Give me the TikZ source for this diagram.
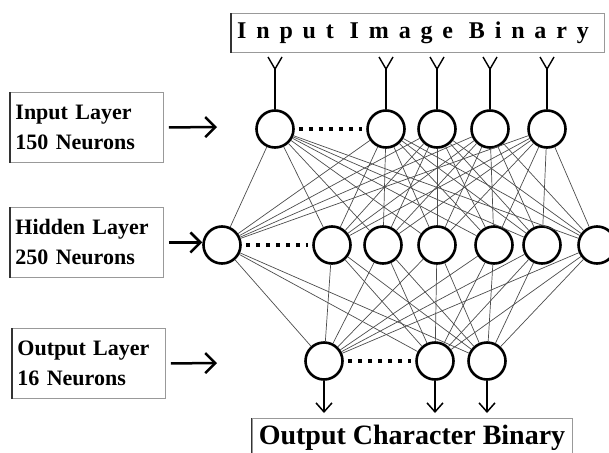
\documentclass[tikz,border=0pt]{standalone}
\usepackage{fontspec}
\setmainfont{Liberation Serif}
\newfontfamily\spacedfont{Liberation Serif}[LetterSpace=41]
\usetikzlibrary{arrows.meta}

\begin{document}
\begin{tikzpicture}[x=1pt,y=-1pt]
        \tikzset{>=Stealth}
        \tikzstyle{neuron}=[circle,fill=white,draw=black,line width=2.6pt,minimum size=37pt,inner sep=0pt]
        \tikzstyle{layerbox}=[draw=black!40,line width=0.9pt,anchor=north west,minimum width=153pt,minimum height=70pt,text width=143pt,align=left,inner xsep=5pt,font=\fontsize{22}{30}\selectfont\bfseries]
        \tikzstyle{codebox}=[draw=black!40,line width=0.9pt,inner xsep=0pt]
        \tikzstyle{link}=[black!70,line width=0.7pt]
        \tikzstyle{dots}=[line width=3.5pt,dash pattern=on 4pt off 6pt,shorten <=4pt,shorten >=4pt]
        \tikzstyle{feed}=[line width=2.5pt,-{Straight Barb[length=10pt,width=20pt]}]
        \tikzstyle{outgo}=[line width=1.5pt,-{Straight Barb[length=9pt,width=16pt]}]

        \useasboundingbox (0,0) rectangle (609,452);

        % neurons
        \foreach \x [count=\i] in {275,386,437,490,547} {
            \node[neuron] (i\i) at (\x,129) {};
            \coordinate (y\i) at (\x,69);
        }
        \foreach \x [count=\i] in {222,332,383,437,494,542,597}
            \node[neuron] (h\i) at (\x,245) {};
        \foreach \x [count=\i] in {324,435,487} {
            \node[neuron] (o\i) at (\x,361) {};
            \coordinate (z\i) at (\x,413);
        }

        % full connections between the layers
        \foreach \a in {1,...,5}
            \foreach \b in {1,...,7}
                \draw[link] (i\a) -- (h\b);
        \foreach \a in {1,...,7}
            \foreach \b in {1,...,3}
                \draw[link] (h\a) -- (o\b);

        \draw[dots] (i1) -- (i2);
        \draw[dots] (h1) -- (h2);
        \draw[dots] (o1) -- (o2);

        % input forks and output arrows
        \foreach \i in {1,...,5} {
            \draw[line width=1.4pt] (y\i) -- (i\i);
            \draw[line width=1.4pt] (y\i) -- ++(-7,-12);
            \draw[line width=1.4pt] (y\i) -- ++(7,-12);
        }
        \foreach \i in {1,...,3}
            \draw[outgo] (o\i) -- (z\i);

        % labels
        \node[layerbox] (inbox) at (10,92) {Input Layer\\150 Neurons};
        \node[layerbox] (hidbox) at (10,207) {Hidden Layer\\250 Neurons};
        \node[layerbox] (outbox) at (12,328) {Output Layer\\16 Neurons};
        \node[codebox,minimum width=373pt,minimum height=39pt,font=\fontsize{24}{28}\spacedfont\bfseries] (inimg) at (418,33) {\kern-10pt Input Image Binary};
        \node[codebox,anchor=north,minimum width=320pt,inner ysep=7pt,font=\fontsize{28}{32}\selectfont\bfseries] (outchr) at (412,418) {Output Character Binary};
        \foreach \b in {inbox,hidbox,outbox,inimg,outchr}
            \draw[black!80,line width=1.6pt] (\b.north west) -- (\b.south west);

        \coordinate (ina) at (217,127);
        \coordinate (outa) at (217,363);
        \draw[feed] ([xshift=5pt]inbox.east) -- (ina);
        \draw[feed] ([xshift=5pt]hidbox.east) -- (hidbox.east -| h1.west);
        \draw[feed] ([xshift=5pt]outbox.east) -- (outa);
    \end{tikzpicture}
\end{document}
